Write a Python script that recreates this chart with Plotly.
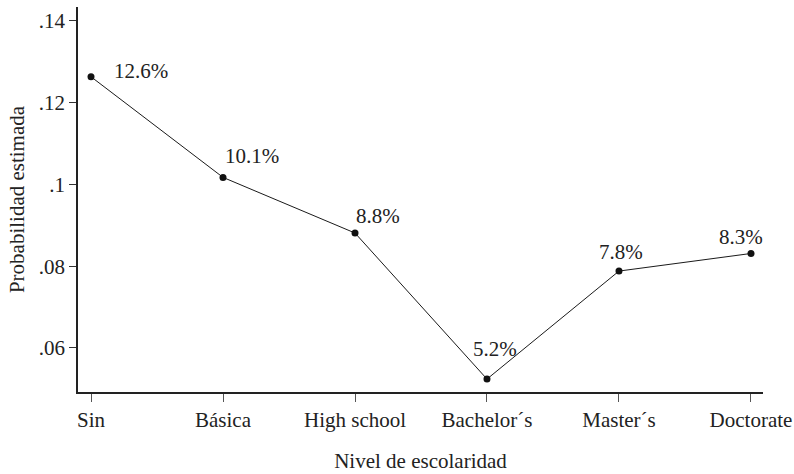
import plotly.graph_objects as go

categories = ["Sin", "Básica", "High school", "Bachelor´s", "Master´s", "Doctorate"]
values = [0.1263, 0.1017, 0.0881, 0.0524, 0.0788, 0.0831]
labels = ["12.6%", "10.1%", "8.8%", "5.2%", "7.8%", "8.3%"]
y_ticks = [0.06, 0.08, 0.10, 0.12, 0.14]
y_tick_text = [".06", ".08", ".1", ".12", ".14"]

# label offsets (pixels) mimicking Stata marker-label positions
label_dx = [50, 29, 23, 8, 2, -10]
label_dy = [6, 21, 17, 30, 19, 16]

FONT = "Liberation Serif"
TXT = "#222222"
FS = 21

xs = list(range(len(categories)))

fig = go.Figure()
fig.add_trace(go.Scatter(
    x=xs, y=values, mode="lines+markers",
    line=dict(color="#1a1a1a", width=1),
    marker=dict(color="#111111", size=7),
    showlegend=False, hoverinfo="skip",
))

for xi, v, t, dx, dy in zip(xs, values, labels, label_dx, label_dy):
    fig.add_annotation(x=xi, y=v, text=t, showarrow=False,
                       xshift=dx, yshift=dy,
                       font=dict(family=FONT, size=FS, color=TXT))

fig.update_layout(
    width=794, height=474,
    margin=dict(l=78, r=31, t=7, b=82),
    paper_bgcolor="white", plot_bgcolor="white",
    font=dict(family=FONT, size=FS, color=TXT),
)
fig.update_xaxes(
    range=[-0.0985, 5.091],
    tickmode="array", tickvals=xs, ticktext=categories,
    showgrid=False, zeroline=False,
    showline=True, linecolor="#222222", linewidth=1.5,
    ticks="outside", ticklen=8, tickcolor="#555555", tickwidth=1,
    tickfont=dict(family=FONT, size=FS, color=TXT),
    title=dict(text="Nivel de escolaridad", standoff=22,
               font=dict(family=FONT, size=FS, color=TXT)),
    automargin=False,
)
fig.update_yaxes(
    range=[0.04924, 0.14335],
    tickmode="array", tickvals=y_ticks, ticktext=y_tick_text,
    showgrid=False, zeroline=False,
    showline=True, linecolor="#222222", linewidth=1.5,
    ticks="outside", ticklen=7, tickcolor="#333333", tickwidth=1,
    tickfont=dict(family=FONT, size=FS, color=TXT),
    title=dict(text="Probabilidad estimada", standoff=8,
               font=dict(family=FONT, size=FS, color=TXT)),
    automargin=False,
)

fig.write_html("out.html",
               config={"displayModeBar": False},
               post_script="document.body.style.margin='0';document.body.style.overflow='hidden';")
